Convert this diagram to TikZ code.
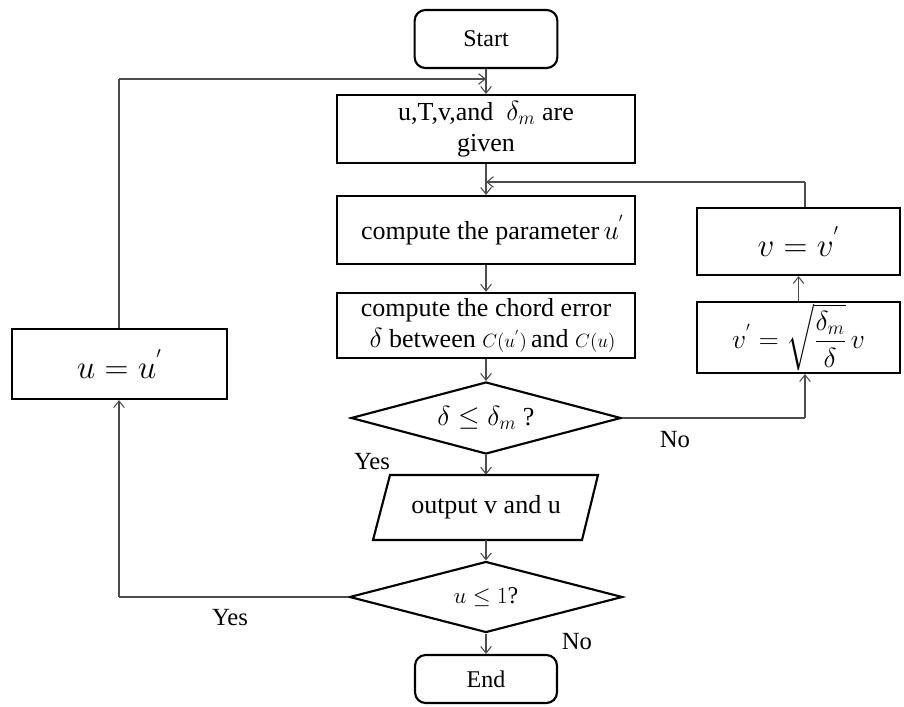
\documentclass[tikz,border=0pt]{standalone}
\usepackage{amsmath}
\usepackage{fontspec}
\setmainfont{Liberation Serif}
\usetikzlibrary{arrows.meta,shapes.geometric}
\begin{document}
\begin{tikzpicture}[x=0.75pt,y=-0.75pt,
  box/.style={draw=black,line width=1.6pt,rectangle,minimum width=#1,align=center,inner sep=0pt},
  term/.style={draw=black,line width=1.6pt,rectangle,rounded corners=8pt,minimum width=107pt,inner sep=0pt,font=\fontsize{18}{21}\selectfont},
  dec/.style={draw=black,line width=1.6pt,diamond,aspect=3.8,inner sep=0pt},
  conn/.style={draw=black!70,line width=0.8pt,-{Straight Barb[length=5pt,width=8pt]}},
  line/.style={draw=black!70,line width=0.8pt},
  lbl/.style={font=\fontsize{18.5}{21}\selectfont}]
\useasboundingbox (0,0) rectangle (904,707);
\fontsize{19.5}{23}\selectfont
\node[term,minimum height=43.5pt] (start) at (486,39) {Start};
\node[box=223pt,minimum height=51pt] (init) at (486,129) {u,T,v,and \ $\delta_m$ are\\given};
\node[box=223pt,minimum height=51pt] (param) at (486,230) {\ \ compute the parameter\,$u^{'}$};
\node[box=223pt,minimum height=49pt] (chord) at (486,325.5) {compute the chord error\\ \ \ $\delta$ between {\fontsize{14}{16}\selectfont$C(u^{'})$}\,and {\fontsize{14}{16}\selectfont$C(u)$}};
\node[dec,minimum width=202.5pt,minimum height=54pt] (d1) at (486,418) {$\delta\le\delta_m$ ?};
\draw[line width=1.6pt] (390,475) -- (598,475) -- (582,540) -- (373,540) -- cycle;
\node[rectangle,minimum width=150pt,minimum height=48.75pt,inner sep=0pt] (out) at (486,507.5) {output v and u};
\node[dec,minimum width=204.75pt,minimum height=53.25pt] (d2) at (486,597) {\fontsize{18}{21}\selectfont$u\le 1$?};
\node[term,minimum height=36pt,minimum width=106.5pt] (end) at (486,679) {End};
\node[box=161.25pt,minimum height=52.5pt] (uu) at (119.5,364) {\fontsize{26}{30}\selectfont$u=u^{'}$};
\node[box=152.25pt,minimum height=50.25pt] (vv) at (798.5,241.5) {\fontsize{26}{30}\selectfont$v=v^{'}$};
\node[box=152.25pt,minimum height=53.25pt] (vp) at (798.5,337.5) {$v^{'}=\sqrt{\dfrac{\delta_m}{\delta}}\,v$};
\coordinate (topj) at (486,79);
\coordinate (midj) at (486,182);
\draw[conn] (start.south) -- (init.north);
\draw[conn] (init.south) -- (param.north);
\draw[conn] (param.south) -- (chord.north);
\draw[conn] (chord.south) -- (d1.north);
\draw[conn] (d1.south) -- (out.north);
\draw[conn] (out.south) -- (d2.north);
\draw[conn] (d2.south) -- (end.north);
\draw[line] (d1.east) -- (805,418);
\draw[conn] (805,418) -- (vp.south -| 805,0);
\draw[conn] (vp.north) -- (vv.south);
\draw[line] (vv.north -| 805,0) -- (805,182);
\draw[conn] (805,182) -- (midj);
\draw[line] (d2.west) -- (119,597);
\draw[conn] (119,597) -- (uu.south -| 119,0);
\draw[line] (uu.north -| 119,0) -- (119,79);
\draw[conn] (119,79) -- (topj);
\node[lbl] (no1) at (675,440) {No};
\node[lbl] (yes1) at (372,462) {Yes};
\node[lbl] (yes2) at (230,618) {Yes};
\node[lbl] (no2) at (577,642) {No};
\end{tikzpicture}
\end{document}
